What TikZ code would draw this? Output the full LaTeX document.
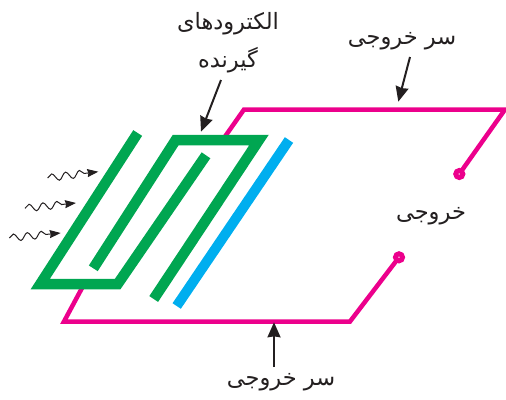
\documentclass[tikz,border=0pt]{standalone}
\usepackage{fontspec}
\newfontfamily\arabicfont[Script=Arabic]{DejaVu Sans}
\TeXXeTstate=1
\usetikzlibrary{arrows.meta,decorations.pathmorphing}
\definecolor{wirepink}{HTML}{EC008C}
\definecolor{elecgreen}{HTML}{00A651}
\definecolor{barblue}{HTML}{00AEEF}
\definecolor{inkdark}{HTML}{231F20}
\newcommand{\fatext}[1]{\arabicfont\beginR #1\endR}
\tikzset{
  wire/.style={draw=wirepink,line width=4.5pt,line join=miter},
  elec/.style={draw=elecgreen,line width=10.5pt,line join=miter},
  pad/.style={circle,draw=wirepink,fill=white,line width=5pt,minimum size=7pt,inner sep=0pt,outer sep=0pt},
  lab/.style={text=inkdark,font=\fontsize{22.5}{26}\selectfont,inner sep=0pt},
  pointer/.style={draw=inkdark,line width=2pt,-{Stealth[length=15pt,width=13pt,inset=1pt]}},
  wavy/.style={draw=inkdark,line width=1pt,-{Stealth[length=11pt,width=8pt,inset=1pt]},
    decorate,decoration={snake,amplitude=3.6pt,segment length=14pt,post length=12pt}},
}
\begin{document}
\begin{tikzpicture}[x=1pt,y=-1pt]
    \useasboundingbox (0,0) rectangle (506,399);
    % output wires
    \node[pad] (padtop) at (459.3,174) {};
    \node[pad] (padbot) at (399,257.3) {};
    \coordinate (wa) at (350,321.5);
    \coordinate (wb) at (64,321.5);
    \coordinate (wc) at (244,109.5);
    \coordinate (wd) at (505,109.5);
    \draw[wire] (padbot)--(wa)--(wb)--(82,288);
    \draw[wire] (224,138)--(wc)--(wd)--(padtop);
    % electrodes
    \draw[elec] (137.7,133)--(40.3,284)--(117.7,284)--(206,155.3);
    \draw[elec] (93.3,268.3)--(175.7,140)--(259,140)--(153.7,299);
    \draw[draw=barblue,line width=10pt] (289,140)--(176.7,306);
    % labels and pointers
    \node[lab] (elecone) at (228,24) {\fatext{الکترودهای}};
    \node[lab] (electwo) at (228,60) {\fatext{گیرنده}};
    \node[lab] (outtop) at (402,41) {\fatext{سر خروجی}};
    \node[lab] (outbot) at (281,382) {\fatext{سر خروجی}};
    \node[lab] (outmid) at (431,216) {\fatext{خروجی}};
    \coordinate (tipelec) at (201,131.7);
    \coordinate (tiptop) at (398.3,101.7);
    \coordinate (tipbot) at (274,322.3);
    \draw[pointer] (221,80)--(tipelec);
    \draw[pointer] (410,57)--(tiptop);
    \draw[pointer] (274,367)--(tipbot);
    % incoming light
    \draw[wavy] (47.7,178)--(98.3,171.7);
    \draw[wavy] (25,208.3)--(76,203);
    \draw[wavy] (9.3,238)--(60.7,233);
\end{tikzpicture}
\end{document}
